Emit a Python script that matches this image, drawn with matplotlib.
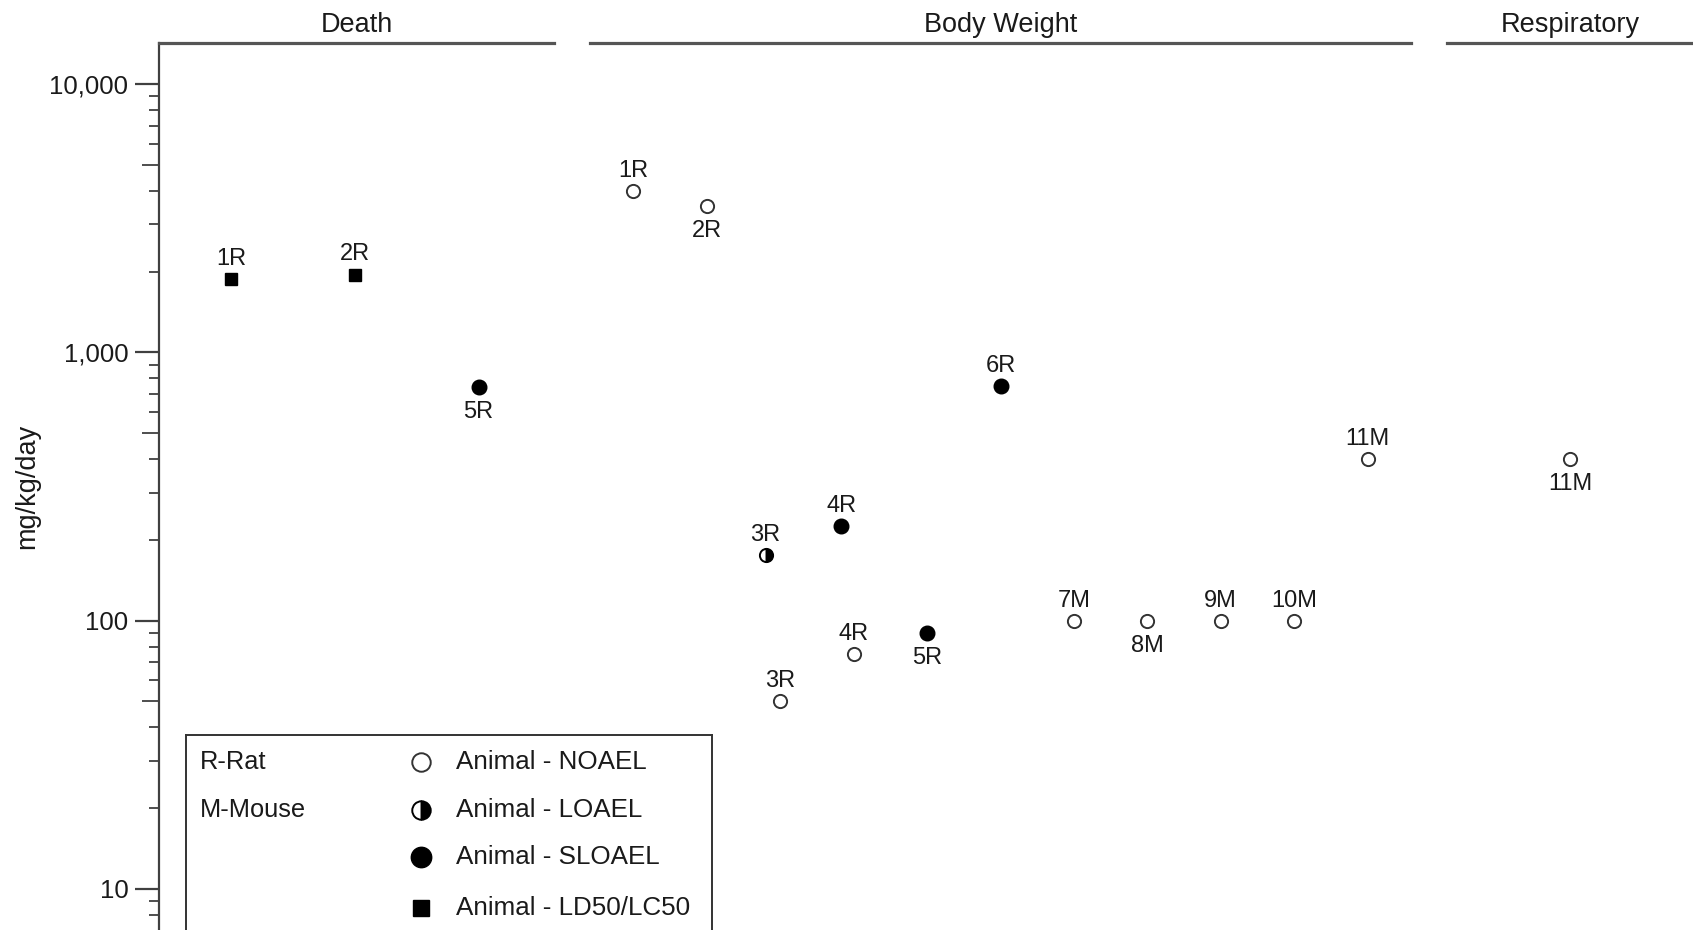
import matplotlib
matplotlib.use('Agg')
import matplotlib.pyplot as plt
from matplotlib.ticker import FixedLocator, FuncFormatter, NullFormatter, NullLocator

plt.rcParams['font.family'] = ['Liberation Sans', 'DejaVu Sans']

# Death endpoints
death_pos = [1, 2, 3]
death_val = [1870, 1950, 740]
death_lbl = ['1R', '2R', '5R']
death_kind = ['LD50', 'LD50', 'SLOAEL']
death_above = [True, True, False]

# Body weight endpoints (LOAEL/SLOAEL nudged left of the NOAEL of the same study)
bw_pos = [1, 2, 2.8, 3, 3.83, 4, 5, 6, 7, 8, 9, 10, 11]
bw_val = [4000, 3500, 175, 50, 225, 75, 90, 750, 100, 100, 100, 100, 400]
bw_lbl = ['1R', '2R', '3R', '3R', '4R', '4R', '5R', '6R', '7M', '8M', '9M', '10M', '11M']
bw_kind = ['NOAEL', 'NOAEL', 'LOAEL', 'NOAEL', 'SLOAEL', 'NOAEL', 'SLOAEL',
           'SLOAEL', 'NOAEL', 'NOAEL', 'NOAEL', 'NOAEL', 'NOAEL']
bw_above = [True, False, True, True, True, True, False, True, True, False, True, True, True]

# Respiratory endpoints
resp_pos = [1]
resp_val = [400]
resp_lbl = ['11M']
resp_kind = ['NOAEL']
resp_above = [False]

headers = ['Death', 'Body Weight', 'Respiratory']
species_keys = ['R-Rat', 'M-Mouse']
legend_kinds = ['NOAEL', 'LOAEL', 'SLOAEL', 'LD50']
legend_labels = ['Animal - NOAEL', 'Animal - LOAEL', 'Animal - SLOAEL', 'Animal - LD50/LC50']

TXT = '#1a1a1a'
styles = {
    'NOAEL': dict(marker='o', ms=9.5, mfc='white', mec='#333333', mew=1.4),
    'LOAEL': dict(marker='o', ms=9.5, fillstyle='right', mfc='black',
                  mfcalt='white', mec='black', mew=1.4),
    'SLOAEL': dict(marker='o', ms=10.5, mfc='black', mec='black', mew=1),
    'LD50': dict(marker='s', ms=8.5, mfc='black', mec='black', mew=1),
}

W, H = 1693, 930
fig = plt.figure(figsize=(W / 100, H / 100), dpi=100)

top = 43
ylo, yhi = 10 ** 0.847, 10 ** 4.153
panels = [
    (159, 554, (0.415, 3.61), death_pos, death_val, death_lbl, death_kind, death_above),
    (590, 1411, (0.41, 11.59), bw_pos, bw_val, bw_lbl, bw_kind, bw_above),
    (1447, 1693, (0, 2.0), resp_pos, resp_val, resp_lbl, resp_kind, resp_above),
]

axes = []
for i, (x0, x1, xl, pos, val, lbl, kind, above) in enumerate(panels):
    ax = fig.add_axes([x0 / W, 0, (x1 - x0) / W, (H - top) / H])
    ax.set_yscale('log')
    ax.set_ylim(ylo, yhi)
    ax.set_xlim(*xl)
    ax.patch.set_visible(False)
    for s in ['right', 'bottom', 'left']:
        ax.spines[s].set_visible(False)
    ax.spines['top'].set_color('#555555')
    ax.spines['top'].set_linewidth(2.3)
    ax.set_xticks([])
    ax.set_title(headers[i], fontsize=19.5, color=TXT, pad=8)
    ax.yaxis.set_major_locator(NullLocator())
    ax.yaxis.set_minor_locator(NullLocator())

    for p, v, l, k, a in zip(pos, val, lbl, kind, above):
        ax.plot([p], [v], linestyle='none', clip_on=False, zorder=3, **styles[k])
        ax.annotate(l, (p, v), xytext=(0, 14.5 if a else -18), textcoords='offset points',
                    ha='center', va='center', fontsize=17, color=TXT)
    axes.append(ax)

# y axis lives on the Death panel
ax = axes[0]
ax.spines['left'].set_visible(True)
ax.spines['left'].set_color('#404040')
ax.spines['left'].set_linewidth(1.6)
ax.yaxis.set_major_locator(FixedLocator([10, 100, 1000, 10000]))
ax.yaxis.set_major_formatter(FuncFormatter(lambda v, p: f'{v:,.0f}'))
ax.yaxis.set_minor_locator(FixedLocator([m * 10 ** e for e in range(0, 4)
                                         for m in (2, 3, 4, 6, 7, 8, 9)]))
ax.yaxis.set_minor_formatter(NullFormatter())
ax.tick_params(axis='y', which='major', length=17, width=1.6, color='#404040',
               labelsize=18.5, labelcolor=TXT, pad=5)
ax.tick_params(axis='y', which='minor', length=7, width=1.3, color='#404040')
ax.set_ylabel('mg/kg/day', fontsize=19.5, color=TXT)
ax.yaxis.set_label_coords(-0.30, 0.5)

# mid-decade ticks are a bit longer than the other minor ticks
mid = ax.twinx()
mid.set_yscale('log')
mid.set_ylim(ylo, yhi)
mid.yaxis.tick_left()
mid.yaxis.set_major_locator(FixedLocator([5, 50, 500, 5000]))
mid.yaxis.set_major_formatter(NullFormatter())
mid.yaxis.set_minor_locator(NullLocator())
mid.tick_params(axis='y', length=12, width=1.3, color='#404040')
for s in mid.spines.values():
    s.set_visible(False)

# key box, running off the bottom edge
bx0, bx1, by0 = 186, 712, 735
extra = 100
lg = fig.add_axes([bx0 / W, -extra / H, (bx1 - bx0) / W, (H - by0 + extra) / H], zorder=5)
lg.set_xlim(0, bx1 - bx0)
lg.set_ylim(H - by0 + extra, 0)
lg.set_xticks([])
lg.set_yticks([])
for s in lg.spines.values():
    s.set_color('#333333')
    s.set_linewidth(1.4)
rows = [27, 75, 122, 173]
for r, t in zip(rows, species_keys):
    lg.text(14, r, t, fontsize=18.3, color=TXT, va='center', ha='left')
for r, k, t in zip(rows, legend_kinds, legend_labels):
    st = dict(styles[k])
    st['ms'] = st['ms'] * 1.4
    lg.plot([235], [r], linestyle='none', **st)
    lg.text(270, r, t, fontsize=18.7, color=TXT, va='center', ha='left')

fig.savefig('out.png', dpi=100)
